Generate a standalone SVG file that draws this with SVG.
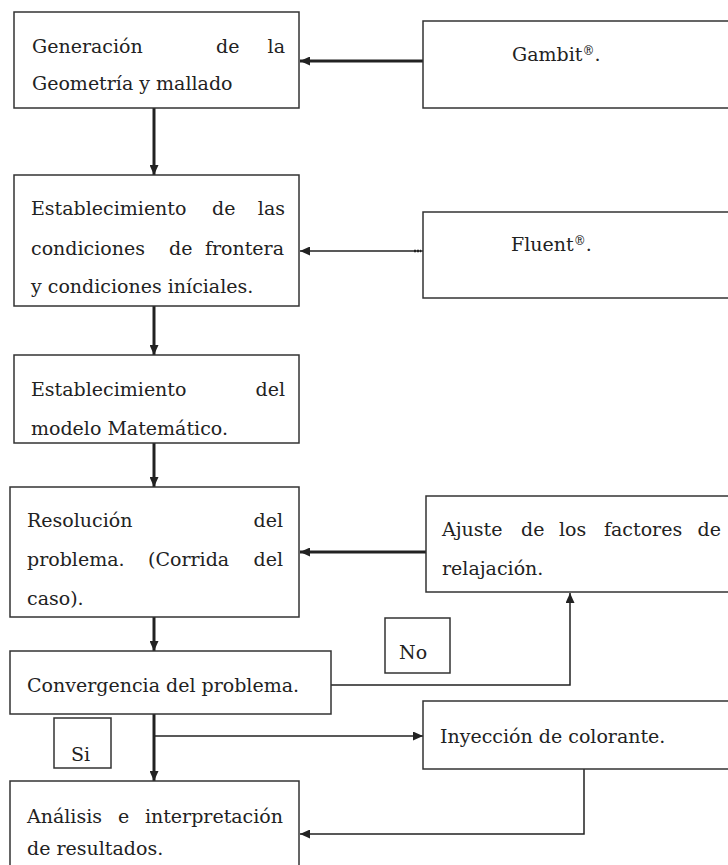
<svg xmlns="http://www.w3.org/2000/svg" width="728" height="865" viewBox="0 0 728 865">
<style>
.box{fill:#fff;stroke:#333;stroke-width:1.5}
.t{font-family:"DejaVu Serif","Liberation Serif",serif;font-size:19px;fill:#222}
.e{text-anchor:end}
.thick{fill:none;stroke:#222;stroke-width:3}
.thin{fill:none;stroke:#222;stroke-width:1.5}
.sup{font-size:12px}
</style>
<defs>
<marker id="ah" markerUnits="userSpaceOnUse" markerWidth="10" markerHeight="9" refX="10" refY="4.5" orient="auto">
<path d="M0,0 L10,4.5 L0,9 z" fill="#222"/>
</marker>
</defs>
<rect width="728" height="865" fill="#fff"/>
<g id="connectors">
<line class="thick" x1="423" y1="61" x2="300" y2="61" marker-end="url(#ah)"/>
<line class="thick" x1="154" y1="108" x2="154" y2="175" marker-end="url(#ah)"/>
<line class="thin" x1="423" y1="251" x2="300" y2="251" marker-end="url(#ah)"/>
<line x1="414" y1="251" x2="421" y2="251" stroke="#222" stroke-width="2.5" stroke-dasharray="2,1"/>
<line class="thick" x1="154" y1="306" x2="154" y2="355" marker-end="url(#ah)"/>
<line class="thick" x1="154" y1="443" x2="154" y2="487" marker-end="url(#ah)"/>
<line class="thick" x1="426" y1="552" x2="300" y2="552" marker-end="url(#ah)"/>
<line class="thick" x1="154" y1="617" x2="154" y2="651" marker-end="url(#ah)"/>
<polyline class="thin" points="331,685 570,685 570,593" marker-end="url(#ah)"/>
<line class="thick" x1="154" y1="714" x2="154" y2="781" marker-end="url(#ah)"/>
<line class="thin" x1="154" y1="736" x2="423" y2="736" marker-end="url(#ah)"/>
<polyline class="thin" points="584,769 584,834 300,834" marker-end="url(#ah)"/>
</g>
<g id="n1">
<rect class="box" x="14" y="12" width="285" height="96"/>
<text class="t" x="32" y="53">Generación</text>
<text class="t" x="216" y="53">de</text>
<text class="t e" x="285" y="53">la</text>
<text class="t" x="32" y="90">Geometría y mallado</text>
</g>
<g id="gambit">
<rect class="box" x="423" y="21" width="320" height="87"/>
<text class="t" x="512" y="61">Gambit<tspan class="sup" dy="-6">®</tspan><tspan dy="6">.</tspan></text>
</g>
<g id="n2">
<rect class="box" x="14" y="175" width="285" height="131"/>
<text class="t" x="31" y="215">Establecimiento</text>
<text class="t" x="212" y="215">de</text>
<text class="t e" x="285" y="215">las</text>
<text class="t" x="31" y="255">condiciones</text>
<text class="t" x="169" y="255">de</text>
<text class="t e" x="284" y="255">frontera</text>
<text class="t" x="31" y="293">y condiciones iníciales.</text>
</g>
<g id="fluent">
<rect class="box" x="423" y="212" width="320" height="86"/>
<text class="t" x="511" y="251">Fluent<tspan class="sup" dy="-6">®</tspan><tspan dy="6">.</tspan></text>
</g>
<g id="n3">
<rect class="box" x="14" y="355" width="285" height="88"/>
<text class="t" x="31" y="396">Establecimiento</text>
<text class="t e" x="285" y="396">del</text>
<text class="t" x="31" y="435">modelo Matemático.</text>
</g>
<g id="n4">
<rect class="box" x="10" y="487" width="289" height="130"/>
<text class="t" x="27" y="527">Resolución</text>
<text class="t e" x="283" y="527">del</text>
<text class="t" x="27" y="566">problema.</text>
<text class="t" x="148" y="566">(Corrida</text>
<text class="t e" x="283" y="566">del</text>
<text class="t" x="27" y="605">caso).</text>
</g>
<g id="ajuste">
<rect class="box" x="426" y="496" width="320" height="96"/>
<text class="t" x="442" y="536">Ajuste</text>
<text class="t" x="521" y="536">de</text>
<text class="t" x="559" y="536">los</text>
<text class="t" x="604" y="536">factores</text>
<text class="t e" x="721" y="536">de</text>
<text class="t" x="442" y="575">relajación.</text>
</g>
<g id="n5">
<rect class="box" x="10" y="651" width="321" height="63"/>
<text class="t" x="27" y="692">Convergencia del problema.</text>
</g>
<g id="no">
<rect class="box" x="385" y="618" width="65" height="55"/>
<text class="t" x="399" y="659">No</text>
</g>
<g id="si">
<rect class="box" x="54" y="718" width="57" height="50"/>
<text class="t" x="71" y="761">Si</text>
</g>
<g id="inyeccion">
<rect class="box" x="423" y="701" width="320" height="68"/>
<text class="t" x="440" y="743">Inyección de colorante.</text>
</g>
<g id="n6">
<rect class="box" x="10" y="781" width="289" height="95"/>
<text class="t" x="27" y="823">Análisis</text>
<text class="t" x="118" y="823">e</text>
<text class="t e" x="283" y="823">interpretación</text>
<text class="t" x="27" y="855">de resultados.</text>
</g>
</svg>
